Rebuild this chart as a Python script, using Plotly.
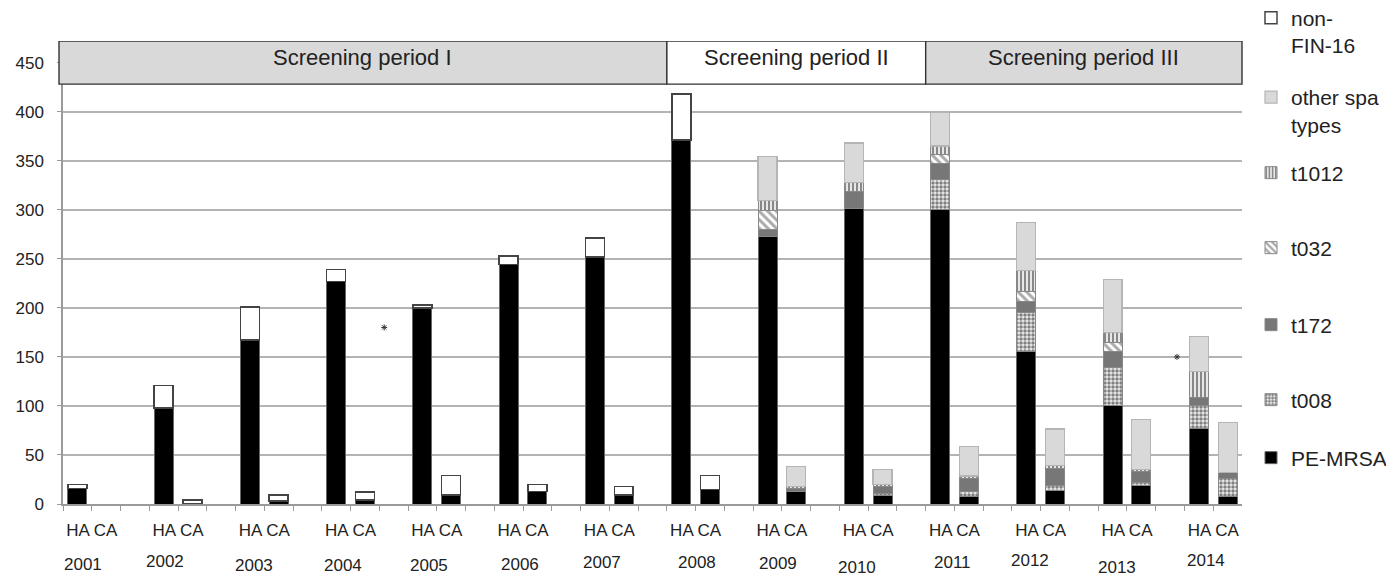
import plotly.graph_objects as go

years = ["2001", "2002", "2003", "2004", "2005", "2006", "2007",
         "2008", "2009", "2010", "2011", "2012", "2013", "2014"]

# Hospital-acquired (HA) values per year, stacked from bottom to top
pe_mrsa_ha = [16, 98, 167, 227, 200, 244, 252, 371, 273, 301, 300, 155, 100, 77]
t008_ha    = [0, 0, 0, 0, 0, 0, 0, 0, 0, 0, 31, 40, 39, 23]
t172_ha    = [0, 0, 0, 0, 0, 0, 0, 0, 7, 18, 16, 11.5, 16, 9]
t032_ha    = [0, 0, 0, 0, 0, 0, 0, 0, 19, 0, 9, 10.5, 10, 0]
t1012_ha   = [0, 0, 0, 0, 0, 0, 0, 0, 10, 9, 9, 21, 10, 26]
other_ha   = [0, 0, 0, 0, 0, 0, 0, 0, 45, 40, 34, 49, 54, 36]
nonfin_ha  = [4, 23, 34, 12, 3, 9, 19, 47, 0, 0, 0, 0, 0, 0]

# Community-acquired (CA) values per year
pe_mrsa_ca = [0, 0, 3, 4, 9, 13, 9, 15, 13, 9, 7.5, 14, 19, 8]
t008_ca    = [0, 0, 0, 0, 0, 0, 0, 0, 0, 2, 5, 5, 3, 18]
t172_ca    = [0, 0, 0, 0, 0, 0, 0, 0, 3, 7, 13, 17.5, 11, 6]
t032_ca    = [0, 0, 0, 0, 0, 0, 0, 0, 0, 0, 0, 0, 0, 0]
t1012_ca   = [0, 0, 0, 0, 0, 0, 0, 0, 2, 2, 3, 2.5, 2.5, 0]
other_ca   = [0, 0, 0, 0, 0, 0, 0, 0, 20, 15, 30, 37.5, 51, 51]
nonfin_ca  = [0, 4, 6, 8, 20, 7, 9, 14, 0, 0, 0, 0, 0, 0]

group_label = "HA CA"
periods = ["Screening period I", "Screening period II", "Screening period III"]
period_start_year = [0, 7, 10]   # index in years
period_fill = ["#d9d9d9", "#ffffff", "#d9d9d9"]

# stray asterisk marks in the original figure (category position, value)
star_x = [10.67, 38.24]
star_y = [180, 150]

# small vertical/horizontal jitter of year labels in the original (px)
year_dy = [0, -3, 1, 1, 1, 0, -2, -2, -1, 3, -2, -4, 3, -4]
year_dx = [-9, -13, -10, -8, -8, -3, -7, 1, -4, -11, -2, -11, -10, -7]

FONT = "Liberation Sans, Arial, sans-serif"
TXT = "#222222"

n_years = len(years)
x_ha = [3 * i for i in range(n_years)]
x_ca = [3 * i + 1 for i in range(n_years)]
xs = x_ha + x_ca
x_max = 3 * (n_years - 1) + 1 + 0.5
x_min = -0.5

series = [
    ("PE-MRSA", pe_mrsa_ha, pe_mrsa_ca, dict(color="#000000"), "#666666", 1, "legend7"),
    ("t008", t008_ha, t008_ca,
     dict(color="#999999", pattern=dict(shape=".", fgcolor="#111111", bgcolor="#eeeeee", size=4, solidity=0.6)),
     "#888888", 1, "legend6"),
    ("t172", t172_ha, t172_ca, dict(color="#777777"), "#888888", 1, "legend5"),
    ("t032", t032_ha, t032_ca,
     dict(color="#ffffff", pattern=dict(shape="\\", fgcolor="#555555", bgcolor="#ffffff", size=6, solidity=0.5)),
     "#888888", 1, "legend4"),
    ("t1012", t1012_ha, t1012_ca,
     dict(color="#ffffff", pattern=dict(shape="|", fgcolor="#111111", bgcolor="#ffffff", size=4, solidity=0.6)),
     "#888888", 1, "legend3"),
    ("other spa<br>types", other_ha, other_ca, dict(color="#d9d9d9"), "#b5b5b5", 1.2, "legend2"),
    ("non-<br>FIN-16", nonfin_ha, nonfin_ca, dict(color="#ffffff"), "#444444", 1.5, "legend"),
]

fig = go.Figure()
for name, ha, ca, marker, lcol, lw, leg in series:
    m = dict(marker)
    m["line"] = dict(color=lcol, width=lw)
    # empty segments are left out so that no outline is drawn for them
    vals = [v if v else None for v in ha + ca]
    fig.add_trace(go.Bar(
        x=xs, y=vals, name=name, marker=m, width=0.66,
        legend=leg, showlegend=True, hoverinfo="skip",
    ))

fig.add_trace(go.Scatter(
    x=star_x, y=star_y, mode="markers", showlegend=False, hoverinfo="skip",
    marker=dict(symbol="asterisk-open", size=5, color="#333333", line=dict(width=1, color="#333333")),
))

# the page body has an 8px margin: the figure is drawn offset by (8, 8) in the window
OFF = 8
W, H = 1394 - OFF, 576 - OFF
L, T = 63 - OFF, 41 - OFF
R = W - (1242 - OFF)
B = H - (504 - OFF)
plot_w = W - L - R
plot_h = H - T - B


def xpaper(xv):
    return (xv - x_min) / (x_max - x_min)


def ypaper_from_window(py):
    return (H - B - (py - OFF)) / plot_h


def xpaper_from_window(px):
    return (px - OFF - L) / plot_w


# screening period boxes
shapes = []
annotations = []
bounds = [3 * s - 0.5 for s in period_start_year] + [x_max]
for k, label in enumerate(periods):
    x0 = xpaper(bounds[k])
    x1 = xpaper(bounds[k + 1])
    if k == 0:
        x0 -= 4 / plot_w
    shapes.append(dict(type="rect", xref="paper", yref="y", x0=x0, x1=x1, y0=428, y1=472,
                       fillcolor=period_fill[k], line=dict(color="#333333", width=1.4), layer="above"))
    annotations.append(dict(x=(x0 + x1) / 2, y=450, xref="paper", yref="y", text=label,
                            xanchor="center", yanchor="middle",
                            showarrow=False, yshift=5, font=dict(family=FONT, size=22, color=TXT)))

# year labels
px_per_cat = plot_w / (x_max - x_min)
for i, yr in enumerate(years):
    py = 564 + year_dy[i]
    annotations.append(dict(x=3 * i + 0.5 + year_dx[i] / px_per_cat,
                            y=ypaper_from_window(py), xref="x", yref="paper", text=yr,
                            showarrow=False, yanchor="middle", xanchor="center",
                            font=dict(family=FONT, size=17, color=TXT)))

tickvals = [k + 0.5 for k in range(-1, int(x_max))]
ticktext = [group_label if (tv - 0.5) % 3 == 0 else "" for tv in tickvals]

layout_legends = {}
leg_py = {"legend": 31.5, "legend2": 111, "legend3": 173, "legend4": 248,
          "legend5": 325, "legend6": 400, "legend7": 458}
for key, py in leg_py.items():
    layout_legends[key] = dict(
        x=xpaper_from_window(1251), y=ypaper_from_window(py), xanchor="left", yanchor="middle",
        bgcolor="rgba(0,0,0,0)", borderwidth=0, itemwidth=30, valign="top",
        font=dict(family=FONT, size=21, color=TXT), itemclick=False, itemdoubleclick=False,
    )

fig.update_layout(
    width=W, height=H, barmode="stack",
    margin=dict(l=L, r=R, t=T, b=B, pad=0, autoexpand=False),
    paper_bgcolor="white", plot_bgcolor="white",
    font=dict(family=FONT, color=TXT),
    xaxis=dict(range=[x_min, x_max], tickmode="array", tickvals=tickvals, ticktext=ticktext,
               showgrid=False, zeroline=False, showline=True, linecolor="#9a9a9a", linewidth=1.5,
               ticks="outside", ticklen=5, tickcolor="#9a9a9a", tickwidth=1.2,
               ticklabelstandoff=5,
               tickfont=dict(family=FONT, size=17, color=TXT), tickangle=0, fixedrange=True),
    yaxis=dict(range=[0, 472], tickmode="array", tickvals=list(range(0, 451, 50)),
               showgrid=True, gridcolor="#b3b3b3", gridwidth=1.5, zeroline=False,
               showline=True, linecolor="#9a9a9a", linewidth=1.5,
               ticks="outside", ticklen=4, tickcolor="#9a9a9a", ticklabelstandoff=10,
               tickfont=dict(family=FONT, size=17, color=TXT), fixedrange=True),
    shapes=shapes, annotations=annotations,
    **layout_legends,
)

fig.write_html("out.html")
